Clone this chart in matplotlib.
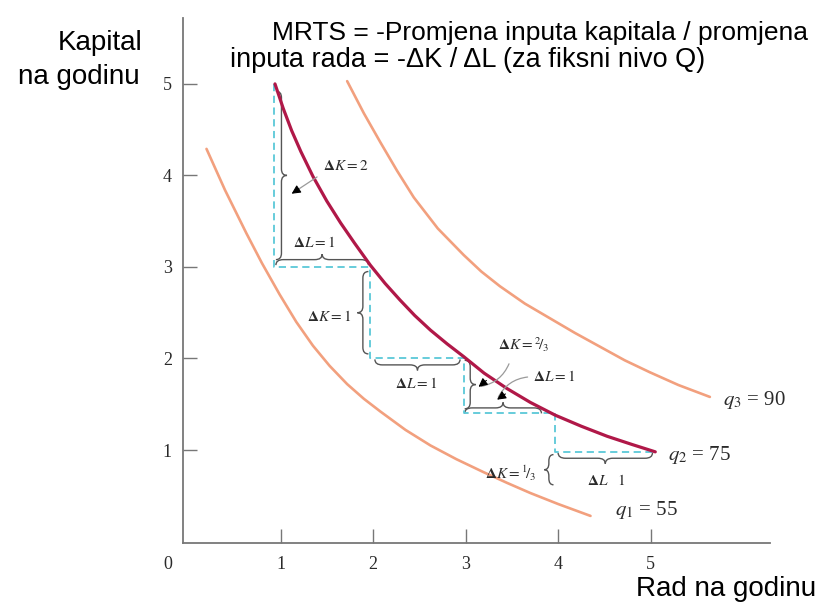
import matplotlib
matplotlib.use("Agg")
import matplotlib.pyplot as plt
from matplotlib.path import Path
from matplotlib.patches import PathPatch

plt.rcParams["font.family"] = ["Liberation Serif", "DejaVu Serif"]
plt.rcParams["mathtext.fontset"] = "stix"

# isoquants (rad L, kapital K)
q1_L = [0.20, 0.40, 0.63, 0.80, 0.99, 1.17, 1.35, 1.53, 1.72, 1.90,
        2.08, 2.35, 2.62, 2.90, 3.19, 3.45, 3.70, 4.00, 4.35]
q1_K = [4.29, 3.84, 3.37, 3.04, 2.70, 2.40, 2.14, 1.92, 1.72, 1.56,
        1.42, 1.22, 1.05, 0.90, 0.76, 0.64, 0.53, 0.41, 0.28]

q2_L = [0.94, 1.03, 1.12, 1.22, 1.35, 1.50, 1.65, 1.80, 1.97, 2.13, 2.29, 2.45,
        2.62, 2.80, 2.98, 3.20, 3.45, 3.70, 3.97, 4.25, 4.53, 4.80, 5.05]
q2_K = [5.00, 4.73, 4.49, 4.26, 3.99, 3.72, 3.48, 3.26, 3.02, 2.82, 2.64, 2.47,
        2.31, 2.16, 2.02, 1.84, 1.67, 1.52, 1.38, 1.26, 1.15, 1.06, 0.98]

q3_L = [1.72, 1.90, 2.08, 2.26, 2.44, 2.70, 2.98, 3.17, 3.37, 3.64,
        3.91, 4.18, 4.45, 4.72, 4.99, 5.30, 5.64]
q3_K = [5.03, 4.68, 4.36, 4.05, 3.76, 3.42, 3.13, 2.95, 2.79, 2.60,
        2.44, 2.28, 2.13, 1.98, 1.85, 1.71, 1.58]

# dashed staircase
step_L = [0.93, 1.97, 2.98, 3.97, 5.05]
step_K = [5.00, 3.00, 2.01, 1.40, 0.98]

x_ticks = [1, 2, 3, 4, 5]
y_ticks = [1, 2, 3, 4, 5]

# braces: (base, start, end, depth)
v_braces = [(0.95, 3.08, 4.92, 0.12), (1.95, 2.05, 2.95, -0.12),
            (2.99, 1.45, 1.98, 0.12), (3.95, 0.62, 0.95, -0.10)]
h_braces = [(3.02, 0.95, 1.95, 0.12), (1.99, 2.02, 2.94, -0.12),
            (1.40, 2.99, 3.82, 0.12), (0.97, 4.00, 5.02, -0.12)]

brace_col = "#555555"
txt_col = "#2a2a2a"


def brace(ax, base, a, b, h, vertical):
    r = 0.07 if vertical else 0.08
    m = (a + b) / 2
    pts = [(a, 0), (a, h / 2), (a + r, h / 2), (m - r, h / 2), (m, h / 2), (m, h),
           (m, h / 2), (m + r, h / 2), (b - r, h / 2), (b, h / 2), (b, 0)]
    codes = [Path.MOVETO, Path.CURVE3, Path.CURVE3, Path.LINETO, Path.CURVE3, Path.CURVE3,
             Path.CURVE3, Path.CURVE3, Path.LINETO, Path.CURVE3, Path.CURVE3]
    if vertical:
        verts = [(base + v, u) for u, v in pts]
    else:
        verts = [(u, base + v) for u, v in pts]
    ax.add_patch(PathPatch(Path(verts, codes), fill=False, edgecolor=brace_col, lw=1.0))


def arrow(ax, start, end, rad):
    ax.annotate("", xy=end, xytext=start,
                arrowprops=dict(arrowstyle="-", color="#9a9a9a", lw=0.9,
                                connectionstyle=f"arc3,rad={rad}"))
    dx = (end[0] - start[0]) * 0.25
    dy = (end[1] - start[1]) * 0.25
    ax.annotate("", xy=end, xytext=(end[0] - dx, end[1] - dy),
                arrowprops=dict(arrowstyle="-|>", color="black", lw=0.8,
                                mutation_scale=13, shrinkA=0, shrinkB=0))


fig = plt.figure(figsize=(8.21, 6.08), dpi=100)
ax = fig.add_axes([0.2229, 0.1069, 0.9379 - 0.2229, 0.9704 - 0.1069])

ax.plot(q1_L, q1_K, color="#f2a07e", lw=1.9, solid_capstyle="round")
ax.plot(q3_L, q3_K, color="#f2a07e", lw=1.9, solid_capstyle="round")
ax.plot(step_L, step_K, drawstyle="steps-pre", color="#5ac8d8", lw=1.3,
        dashes=(4, 2.5))
ax.plot(q2_L, q2_K, color="#b01848", lw=2.3, solid_capstyle="round")

for base, a, b, h in v_braces:
    brace(ax, base, a, b, h, True)
for base, a, b, h in h_braces:
    brace(ax, base, a, b, h, False)

fs = 11
ax.text(1.70, 4.10, r"$\mathbf{\Delta}K = 2$", fontsize=fs, color=txt_col, ha="center", va="center")
ax.text(1.36, 3.27, r"$\mathbf{\Delta}L = 1$", fontsize=fs, color=txt_col, ha="center", va="center")
ax.text(1.76, 2.46, r"$\mathbf{\Delta}K = 1$", fontsize=fs, color=txt_col, ha="right", va="center")
ax.text(2.47, 1.73, r"$\mathbf{\Delta}L = 1$", fontsize=fs, color=txt_col, ha="center", va="center")
ax.text(3.63, 2.15, r"$\mathbf{\Delta}K = {}^{2}\!/{}_{3}$", fontsize=fs, color=txt_col, ha="center", va="center")
ax.text(3.96, 1.80, r"$\mathbf{\Delta}L = 1$", fontsize=fs, color=txt_col, ha="center", va="center")
ax.text(3.77, 0.745, r"$\mathbf{\Delta}K = {}^{1}\!/{}_{3}$", fontsize=fs, color=txt_col, ha="right", va="center")
ax.text(4.52, 0.67, r"$\mathbf{\Delta}L\ \ \ 1$", fontsize=fs, color=txt_col, ha="center", va="center")

arrow(ax, (1.42, 4.00), (1.12, 3.80), 0.0)
arrow(ax, (3.48, 1.97), (3.14, 1.69), -0.3)
arrow(ax, (3.70, 1.80), (3.34, 1.55), 0.3)

ax.text(5.78, 1.55, r"$q_3$ = 90", fontsize=15, color=txt_col, ha="left", va="center")
ax.text(5.19, 0.945, r"$q_2$ = 75", fontsize=15, color=txt_col, ha="left", va="center")
ax.text(4.62, 0.34, r"$q_1$ = 55", fontsize=15, color=txt_col, ha="left", va="center")

ax.set_xlim(-0.054, 6.29)
ax.set_ylim(-0.016, 5.72)
ax.set_xticks(x_ticks)
ax.set_yticks(y_ticks)
ax.tick_params(direction="in", length=10, width=1, color="#777777",
               labelsize=13, labelcolor=txt_col)
ax.tick_params(axis="x", pad=9)
ax.tick_params(axis="y", pad=8)
ax.text(-0.22, -0.25, "0", fontsize=13, color=txt_col, ha="center", va="center")
for side in ["top", "right"]:
    ax.spines[side].set_visible(False)
for side in ["left", "bottom"]:
    ax.spines[side].set_color("#777777")
    ax.spines[side].set_linewidth(1.3)

sans = ["Liberation Sans", "DejaVu Sans"]
fig.text(142 / 821, 1 - 50 / 608, "Kapital", family=sans, fontsize=20, ha="right", va="baseline")
fig.text(140 / 821, 1 - 84 / 608, "na godinu", family=sans, fontsize=20, ha="right", va="baseline")
fig.text(816 / 821, 1 - 596 / 608, "Rad na godinu", family=sans, fontsize=20, ha="right", va="baseline")
fig.text(272 / 821, 1 - 40 / 608, "MRTS = -Promjena inputa kapitala / promjena",
         family=sans, fontsize=19, ha="left", va="baseline")
fig.text(230 / 821, 1 - 67 / 608, "inputa rada = -\u0394K / \u0394L (za fiksni nivo Q)",
         family=sans, fontsize=19.5, ha="left", va="baseline")

fig.savefig("out.png", dpi=100)
